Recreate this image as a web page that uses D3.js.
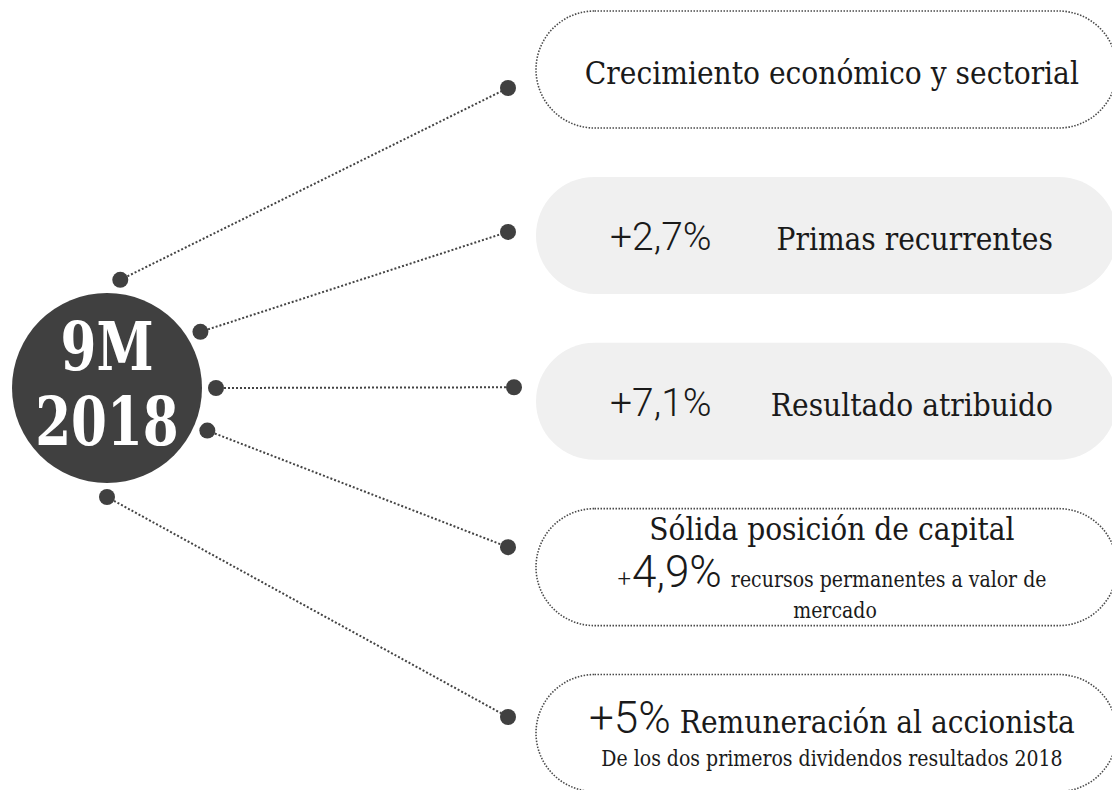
<!DOCTYPE html>
<html><head><meta charset="utf-8">
<script src="https://cdn.jsdelivr.net/npm/d3@7"></script>
<style>body{margin:0;background:#fff} svg{display:block}</style>
</head><body><svg id="chart" width="1112" height="790"></svg>
<script>
// ---------- content ----------
const period = ["9M", "2018"];
const labels = ["Crecimiento económico y sectorial", "Primas recurrentes", "Resultado atribuido", "Sólida posición de capital", "Remuneración al accionista"];
const values = ["", "+2,7%", "+7,1%", "+4,9%", "+5%"];
const notes = [[], [], [], ["recursos permanentes a valor de", "mercado"], ["De los dos primeros dividendos resultados 2018"]];
const boxKinds = ["outline", "filled", "filled", "outline", "outline"];

// ---------- layout ----------
const W = 1112, H = 790;
const circle = {cx: 107, cy: 388, r: 95, dotR: 109};
const connectorAngles = [-83, -31, 0, 23, 90];       // degrees around the circle
const rightDotDy = [18.5, -3.5, -14, -20, -16];       // relative to box centre
const rightDotX = [508, 508, 514, 508, 508];
const box = {x0: 536, x1: 1117, h: 117};
const textCx = 832;

const fonts = {
  lab:   {family: "'DejaVu Serif', serif", size: 32, weight: 400, k: 0.88, fill: "#1a1a1a"},
  small: {family: "'DejaVu Serif', serif", size: 21.5, weight: 400, k: 0.88, fill: "#1a1a1a"},
  big:   {family: "Roboto, 'Open Sans', sans-serif", size: 39, weight: 300, k: 1, fill: "#1a1a1a"},
  big2:  {family: "Roboto, 'Open Sans', sans-serif", size: 44, weight: 300, k: 1, fill: "#1a1a1a"},
  plus:  {family: "Roboto, 'Open Sans', sans-serif", size: 24, weight: 300, k: 1, fill: "#1a1a1a"},
  hero:  {family: "'DejaVu Serif', serif", size: 67, weight: 700, k: 0.77, fill: "#ffffff"}
};

const svg = d3.select("#chart");
svg.append("rect").attr("width", W).attr("height", H).attr("fill", "#fff");

const idx = d3.range(labels.length);
const y = d3.scalePoint().domain(idx).range([69.5, 733]);
const ang = d3.scaleLinear().domain([0, 360]).range([0, 2 * Math.PI]);

function placeRuns(g, runs, x, baseline, anchor) {
  const nodes = runs.map(r => {
    const f = fonts[r.font];
    const wrap = g.append("g");
    const t = wrap.append("text")
      .attr("x", 0).attr("y", 0)
      .attr("font-family", f.family)
      .attr("font-size", f.size)
      .attr("font-weight", f.weight)
      .attr("fill", f.fill)
      .text(r.text);
    const w = t.node().getComputedTextLength() * f.k;
    return {wrap, w, k: f.k, gap: r.gap || 0};
  });
  const total = d3.sum(nodes, n => n.w + n.gap);
  let cx = anchor === "middle" ? x - total / 2 : anchor === "end" ? x - total : x;
  nodes.forEach(n => {
    cx += n.gap;
    n.wrap.attr("transform", `translate(${cx},${baseline}) scale(${n.k},1)`);
    cx += n.w;
  });
}

// connectors
const gLines = svg.append("g");
idx.forEach(i => {
  const a = ang(connectorAngles[i]);
  const lx = circle.cx + circle.dotR * Math.cos(a);
  const ly = circle.cy + circle.dotR * Math.sin(a);
  const rx = rightDotX[i], ry = y(i) + rightDotDy[i];
  gLines.append("line").attr("x1", lx).attr("y1", ly).attr("x2", rx).attr("y2", ry)
    .attr("stroke", "#444").attr("stroke-width", 2).attr("stroke-dasharray", "2 2");
  gLines.append("circle").attr("cx", lx).attr("cy", ly).attr("r", 8).attr("fill", "#404040");
  gLines.append("circle").attr("cx", rx).attr("cy", ry).attr("r", 8).attr("fill", "#404040");
});

// central circle
svg.append("circle").attr("cx", circle.cx).attr("cy", circle.cy).attr("r", circle.r).attr("fill", "#404040");
const gHero = svg.append("g");
placeRuns(gHero, [{text: period[0], font: "hero"}], circle.cx, circle.cy - 18, "middle");
placeRuns(gHero, [{text: period[1], font: "hero"}], circle.cx, circle.cy + 57, "middle");

// boxes
const gBoxes = svg.append("g");
idx.forEach(i => {
  const cy = y(i);
  const r = gBoxes.append("rect")
    .attr("x", box.x0).attr("y", cy - box.h / 2)
    .attr("width", box.x1 - box.x0).attr("height", box.h)
    .attr("rx", box.h / 2).attr("ry", box.h / 2);
  if (boxKinds[i] === "filled") r.attr("fill", "#f0f0f0").attr("stroke", "none");
  else r.attr("fill", "#fff").attr("stroke", "#4a4a4a").attr("stroke-width", 1.6).attr("stroke-dasharray", "1.5 1.5");
});

const gText = svg.append("g");
// box 0
placeRuns(gText, [{text: labels[0], font: "lab"}], textCx, y(0) + 14.5, "middle");
// boxes 1,2
[1, 2].forEach(i => {
  placeRuns(gText, [{text: values[i], font: "big"}], 610, y(i) + 14.5, "start");
  placeRuns(gText, [{text: labels[i], font: "lab"}], 1053, y(i) + 14.5, "end");
});
// box 3
placeRuns(gText, [{text: labels[3], font: "lab"}], textCx, y(3) - 27, "middle");
placeRuns(gText, [
  {text: values[3].slice(0, 1), font: "plus"},
  {text: values[3].slice(1), font: "big2", gap: 1},
  {text: notes[3][0], font: "small", gap: 9}
], textCx, y(3) + 20, "middle");
placeRuns(gText, [{text: notes[3][1], font: "small"}], textCx + 3, y(3) + 51, "middle");
// box 4
placeRuns(gText, [
  {text: values[4], font: "big2"},
  {text: labels[4], font: "lab", gap: 9}
], textCx, y(4) - 0.5, "middle");
placeRuns(gText, [{text: notes[4][0], font: "small"}], textCx, y(4) + 33, "middle");
</script></body></html>
